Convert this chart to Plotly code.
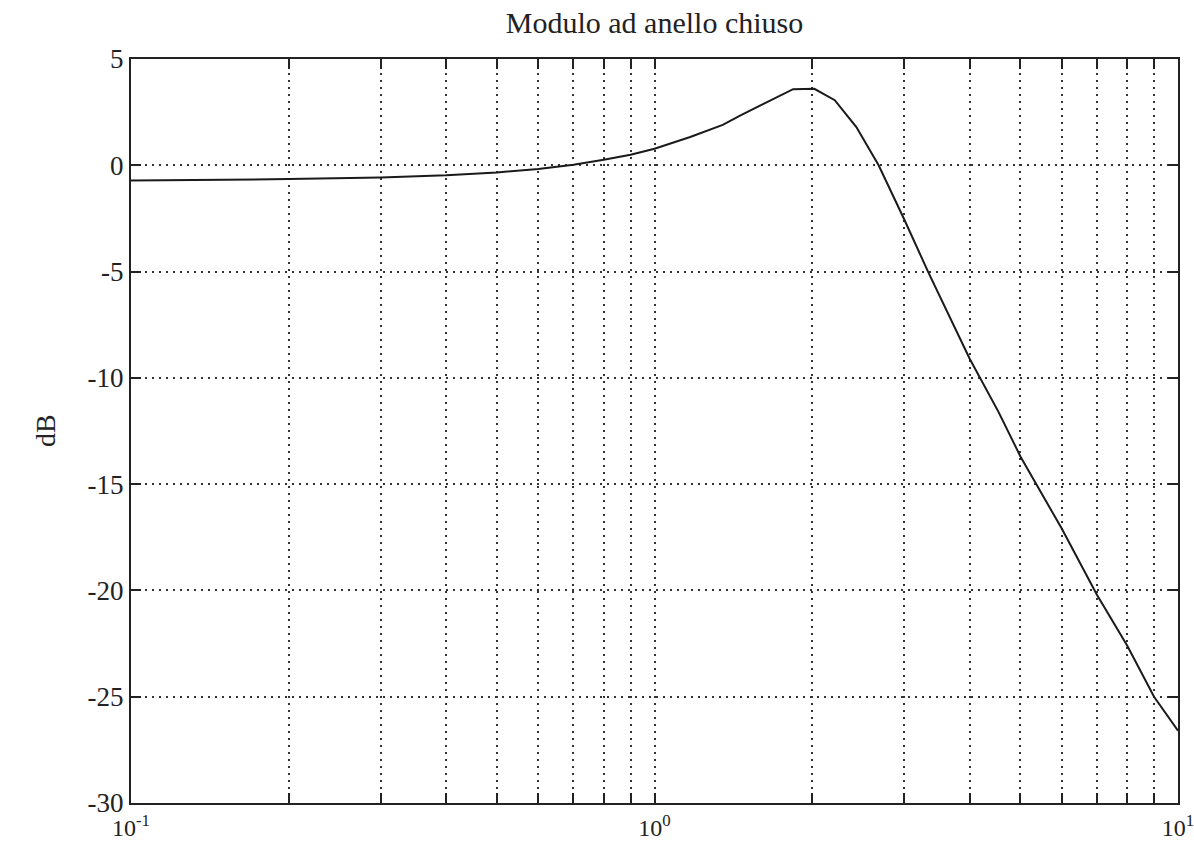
import plotly.graph_objects as go

# Frequency (rad/s) and closed-loop magnitude (dB)
freq = [0.1, 0.15, 0.2, 0.3, 0.4, 0.5, 0.6, 0.7, 0.8, 0.9, 1.0, 1.17, 1.35, 1.46,
        1.69, 1.84, 2.02, 2.21, 2.43, 2.68, 3.0, 3.33, 4.0, 4.54, 5.0, 6.0, 7.0,
        8.0, 9.0, 10.0]
mag_db = [-0.72, -0.69, -0.65, -0.57, -0.47, -0.34, -0.17, 0.03, 0.26, 0.5, 0.78,
          1.33, 1.9, 2.35, 3.13, 3.58, 3.6, 3.06, 1.8, 0.0, -2.55, -5.0, -9.1,
          -11.6, -13.7, -17.1, -20.2, -22.6, -25.0, -26.6]

y_ticks = [5, 0, -5, -10, -15, -20, -25, -30]
y_tick_text = ["5", "0", "-5", "-10", "-15", "-20", "-25", "-30"]

x_major_ticks = [0.1, 1, 10]
x_major_text = ["10<sup>-1</sup>", "10<sup>0</sup>", "10<sup>1</sup>"]
x_minor_ticks = [0.2, 0.3, 0.4, 0.5, 0.6, 0.7, 0.8, 0.9,
                 2, 3, 4, 5, 6, 7, 8, 9]

title_text = "Modulo ad anello chiuso"
y_label = "dB"

FONT = "Liberation Serif"
INK = "#222"
GRID = dict(gridcolor="#333", gridwidth=1.5, griddash="2px,5px")

fig = go.Figure()
fig.add_trace(go.Scatter(x=freq, y=mag_db, mode="lines",
                         line=dict(color="#1a1a1a", width=2),
                         showlegend=False, hoverinfo="skip"))

fig.update_layout(
    width=1194, height=841,
    margin=dict(l=131, r=16, t=59, b=38, autoexpand=False),
    paper_bgcolor="white", plot_bgcolor="white",
    font=dict(family=FONT, size=28, color=INK),
    title=dict(text=title_text, x=0.5, xref="paper", xanchor="center",
               y=1 - 22 / 841, yref="container", yanchor="middle",
               font=dict(family=FONT, size=30, color=INK)),
    annotations=[dict(text=y_label, xref="paper", yref="paper",
                      x=(45 - 131) / 1047, y=0.5, textangle=-90,
                      showarrow=False, xanchor="center", yanchor="middle",
                      font=dict(family=FONT, size=28, color=INK))],
)

fig.update_xaxes(
    type="log", range=[-1, 1],
    automargin=False, ticklabeloverflow="allow",
    tickmode="array", tickvals=x_major_ticks, ticktext=x_major_text,
    ticks="inside", ticklen=10, tickwidth=1.5, tickcolor=INK,
    ticklabelstandoff=2,
    minor=dict(tickmode="array", tickvals=x_minor_ticks, ticks="inside",
               ticklen=10, tickwidth=1.5, tickcolor=INK, showgrid=True, **GRID),
    showline=True, linecolor=INK, linewidth=2, mirror="ticks",
    showgrid=True, **GRID,
    zeroline=False, tickfont=dict(family=FONT, size=24, color=INK),
)
fig.update_yaxes(
    range=[-30, 5],
    automargin=False, ticklabeloverflow="allow",
    tickmode="array", tickvals=y_ticks, ticktext=y_tick_text,
    ticks="inside", ticklen=10, tickwidth=1.5, tickcolor=INK,
    showline=True, linecolor=INK, linewidth=2, mirror="ticks",
    showgrid=True, **GRID,
    zeroline=False, tickfont=dict(family=FONT, size=27, color=INK),
)

fig.write_html("out.html")
